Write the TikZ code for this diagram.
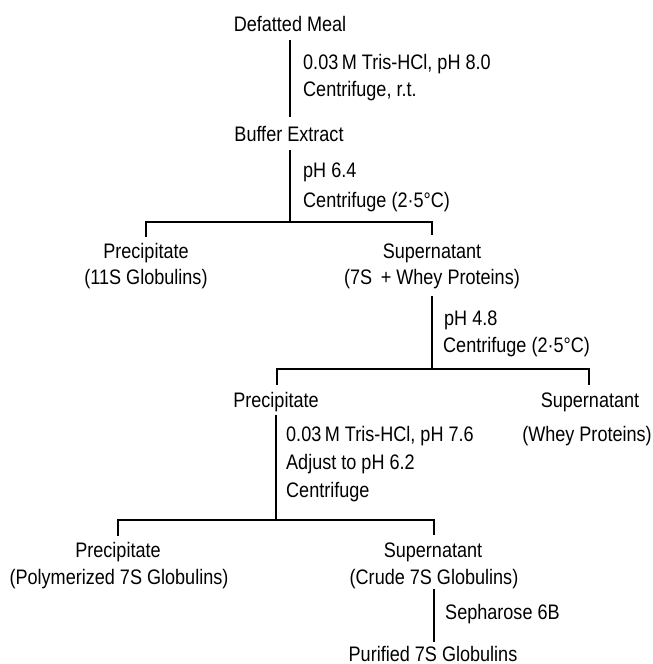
\documentclass[tikz,border=0pt]{standalone}
\usepackage{fontspec}
\newfontfamily\dg[FakeStretch=0.86]{Liberation Sans}
\begin{document}
\begin{tikzpicture}[x=1pt,y=-1pt,
  lbl/.style={font=\dg\fontsize{21}{25}\selectfont, inner sep=0pt, text height=14pt, text depth=4pt, anchor=base},
  stp/.style={lbl, anchor=base west},
  conn/.style={line width=2pt, line cap=butt, line join=miter}]
\useasboundingbox (0,0) rectangle (653,664);
% texts
\node[lbl] (dm) at (290,31) {Defatted Meal};
\node[stp] (s1a) at (303,69) {0.03\,M Tris-HCl, pH 8.0};
\node[stp] (s1b) at (303,96) {Centrifuge, r.t.};
\node[lbl] (be) at (289,141) {Buffer Extract};
\node[stp] (s2a) at (303,177) {pH 6.4};
\node[stp] (s2b) at (303,207) {Centrifuge (2·5°C)};
\node[lbl] (p1a) at (146,258) {Precipitate};
\node[lbl] (p1b) at (146,284) {(11S Globulins)};
\node[lbl] (sp1a) at (432,258) {Supernatant};
\node[lbl] (sp1b) at (432,284) {(7S\, + Whey Proteins)};
\node[stp] (s3a) at (444,325) {pH 4.8};
\node[stp] (s3b) at (443,352) {Centrifuge (2·5°C)};
\node[lbl] (p2) at (276,407) {Precipitate};
\node[lbl] (sp2a) at (590,407) {Supernatant};
\node[lbl] (sp2b) at (587,441) {(Whey Proteins)};
\node[stp] (s4a) at (286,441) {0.03\,M Tris-HCl, pH 7.6};
\node[stp] (s4b) at (286,469) {Adjust to pH 6.2};
\node[stp] (s4c) at (286,497) {Centrifuge};
\node[lbl] (p3a) at (118,557) {Precipitate};
\node[lbl] (p3b) at (119,584) {(Polymerized 7S Globulins)};
\node[lbl] (sp3a) at (433,557) {Supernatant};
\node[lbl] (sp3b) at (434,584) {(Crude 7S Globulins)};
\node[stp] (s5) at (445,619) {Sepharose 6B};
\node[lbl] (pur) at (433,661) {Purified 7S Globulins};
% junctions
\coordinate (j1) at (290,222);
\coordinate (j2) at (432,369);
\coordinate (j3) at (276,520);
% connectors
\draw[conn] ([yshift=-5pt]dm.south) -- ([yshift=10pt]dm.south |- be.north);
\draw[conn] ([yshift=-5pt]dm.south |- be.south) -- (j1);
\draw[conn] ([yshift=7pt]p1a.north) |- (j1) -| ([yshift=9pt]sp1a.north);
\draw[conn] ([yshift=-8pt]sp1b.south) -- (j2);
\draw[conn] ([xshift=1pt,yshift=8pt]p2.north) |- (j2) -| ([xshift=-1pt,yshift=8pt]sp2a.north);
\draw[conn] ([yshift=-4pt]p2.south) -- (j3);
\draw[conn] ([yshift=7pt]p3a.north) |- (j3) -| ([xshift=1pt,yshift=8pt]sp3a.north);
\draw[conn] ([yshift=-1pt]sp3b.south) -- ([yshift=5pt]sp3b.south |- pur.north);
\end{tikzpicture}
\end{document}
